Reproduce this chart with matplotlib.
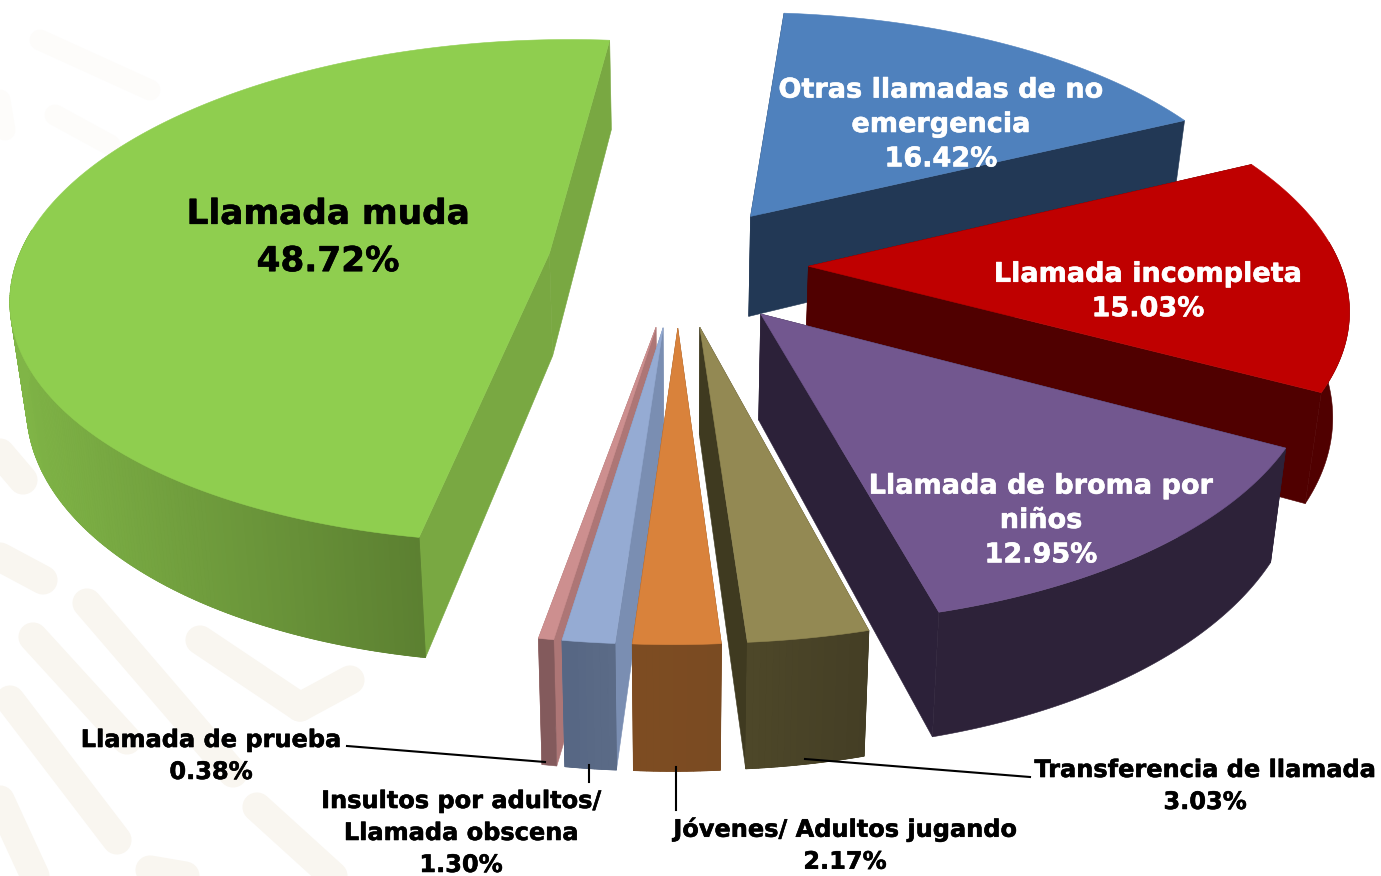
#!/usr/bin/env python3
"""Exploded 3D pie of call types, projected by hand onto a 2D axes."""

import numpy as np
import matplotlib
matplotlib.use('Agg')
import matplotlib.pyplot as plt
import matplotlib.patheffects as pe
from matplotlib.colors import to_rgb
from matplotlib.patches import Polygon

# Data, clockwise from the top of the pie
categories = ["Otras llamadas de no\nemergencia", "Llamada incompleta",
              "Llamada de broma por\nniños", "Transferencia de llamada",
              "Jóvenes/ Adultos jugando", "Insultos por adultos/\nLlamada obscena",
              "Llamada de prueba", "Llamada muda"]
shares = [16.42, 15.03, 12.95, 3.03, 2.17, 1.30, 0.38, 48.72]

# Styles: top, cut face, wall at right end, wall at left end
top_colors = ['#4f81bd', '#bf0000', '#72578f', '#938953', '#d9823b', '#95abd3', '#cd8f8f', '#8fce4f']
cut_colors = ['#223855', '#500000', '#2c2139', '#3f3a20', '#7e4c22', '#7a8eb2', '#ad7676', '#79a842']
wall_right = ['#223855', '#500000', '#2d2239', '#443e25', '#7a4b22', '#5b6b87', '#835a5c', '#5c8031']
wall_left = ['#223855', '#500000', '#2d2239', '#4e4829', '#7e4c22', '#566683', '#835a5c', '#80b547']
nudge_y = [0, 0, 0, 0, 0, 0, 0, -4]

# Label placement, in pixels
label_xy = [(941, 125), (1148, 292), (1041, 521), (1205, 786), (845, 845), (461, 833), (211, 756), (328, 238)]
label_colors = ['white', 'white', 'white', 'black', 'black', 'black', 'black', 'black']
label_sizes = [19.5, 19.5, 19.5, 17.3, 17.3, 17.3, 17.3, 24.7]
label_spacing = [1.42, 1.42, 1.42, 1.42, 1.42, 1.42, 1.42, 1.55]
leader_x = [(347, 545), (589, 589), (676, 676), (805, 1030)]
leader_y = [(746, 762), (765, 782), (767, 810), (759, 777)]

# Projection settings
CX, CY = 678, 265
RX, RY = 532, 248
PERSP = 0.15
DEPTH = 103
SHRINK = 0.975
SHEAR = -0.016
EXPLODE = 0.245
START = 5.0


def project(x, y, bottom=False):
    """World pie coordinates to pixels, optionally on the lower face."""
    s = 1 / (1 - PERSP * y)
    dy = RY * y * s
    dx = RX * x * s + SHEAR * dy
    if bottom:
        return CX + dx * SHRINK, CY + dy + DEPTH * s
    return CX + dx, CY + dy


def face(ax, xs, ys, color, z, lw=0.4):
    ax.add_patch(Polygon(np.column_stack([xs, ys]), closed=True, facecolor=color,
                         edgecolor=color, linewidth=lw, zorder=z))


def draw_slice(ax, i, a0, a1, z):
    mid = np.radians((a0 + a1) / 2)
    ox, oy = EXPLODE * np.sin(mid), -EXPLODE * np.cos(mid)
    theta = np.radians(np.linspace(a0, a1, max(int(a1 - a0) * 2, 4)))
    wx = ox + np.sin(theta)
    wy = oy - np.cos(theta)

    tx, ty = project(wx, wy)
    bx, by = project(wx, wy, bottom=True)
    px, py = project(ox, oy)
    qx, qy = project(ox, oy, bottom=True)
    ty, by, py, qy = ty + nudge_y[i], by + nudge_y[i], py + nudge_y[i], qy + nudge_y[i]

    # Cut faces first, the top will hide whichever points away
    face(ax, [px, tx[0], bx[0], qx], [py, ty[0], by[0], qy], cut_colors[i], z)
    face(ax, [px, tx[-1], bx[-1], qx], [py, ty[-1], by[-1], qy], cut_colors[i], z + 0.1)

    # Outer wall, only on the part of the arc that faces the viewer
    front = -np.cos(theta) > -0.1
    if front.sum() > 1:
        fx, fy, gx, gy = tx[front], ty[front], bx[front], by[front]
        cr, cl = np.array(to_rgb(wall_right[i])), np.array(to_rgb(wall_left[i]))
        face(ax, np.r_[fx, gx[::-1]], np.r_[fy, gy[::-1]], tuple((cr + cl) / 2), z + 0.2)
        if wall_right[i] != wall_left[i]:
            span = max(fx.max() - fx.min(), 1)
            for k in range(len(fx) - 1):
                t = (fx.max() - fx[k]) / span
                face(ax, [fx[k], fx[k + 1], gx[k + 1], gx[k]], [fy[k], fy[k + 1], gy[k + 1], gy[k]],
                     tuple(cr + (cl - cr) * t), z + 0.2, lw=0.6)

    face(ax, np.r_[px, tx], np.r_[py, ty], top_colors[i], z + 0.3)


def draw_watermark(ax):
    """Pale round-capped strokes of the page background."""
    strokes = [((33, 637), (127, 740)), ((87, 603), (233, 773)), ((10, 700), (117, 840)),
               ((257, 807), (333, 876)), ((0, 557), (43, 580)), ((0, 453), (23, 480)),
               ((200, 640), (300, 707)), ((300, 707), (350, 680)), ((0, 800), (35, 876)),
               ((150, 870), (185, 876))]
    for (x0, y0), (x1, y1) in strokes:
        ax.plot([x0, x1], [y0, y1], color='#f9f6f0', lw=21, solid_capstyle='round', zorder=0)
    for (x0, y0), (x1, y1) in [((40, 40), (150, 90)), ((55, 115), (110, 145)), ((0, 100), (5, 130))]:
        ax.plot([x0, x1], [y0, y1], color='#fdfcfa', lw=15, solid_capstyle='round', zorder=0)


fig = plt.figure(figsize=(13.81, 8.76), dpi=100)
ax = fig.add_axes([0, 0, 1, 1])
ax.set_xlim(0, 1381)
ax.set_ylim(876, 0)
ax.axis('off')

draw_watermark(ax)

ends = START + np.cumsum(shares) * 3.6
starts = ends - np.array(shares) * 3.6
order = np.argsort(-np.cos(np.radians((starts + ends) / 2)))
for n, i in enumerate(order):
    draw_slice(ax, i, starts[i], ends[i], 2 + n)

for x, y in zip(leader_x, leader_y):
    ax.plot(x, y, color='black', lw=1.5, zorder=20)

for i, name in enumerate(categories):
    txt = ax.text(label_xy[i][0], label_xy[i][1], f"{name}\n{shares[i]:.2f}%", color=label_colors[i],
                  fontsize=label_sizes[i], fontweight='bold', family='DejaVu Sans',
                  ha='center', va='center', linespacing=label_spacing[i], zorder=30)
    # Reference face is heavier than DejaVu Bold
    txt.set_path_effects([pe.withStroke(linewidth=0.4, foreground=label_colors[i])])

fig.savefig('out.png', dpi=100)
